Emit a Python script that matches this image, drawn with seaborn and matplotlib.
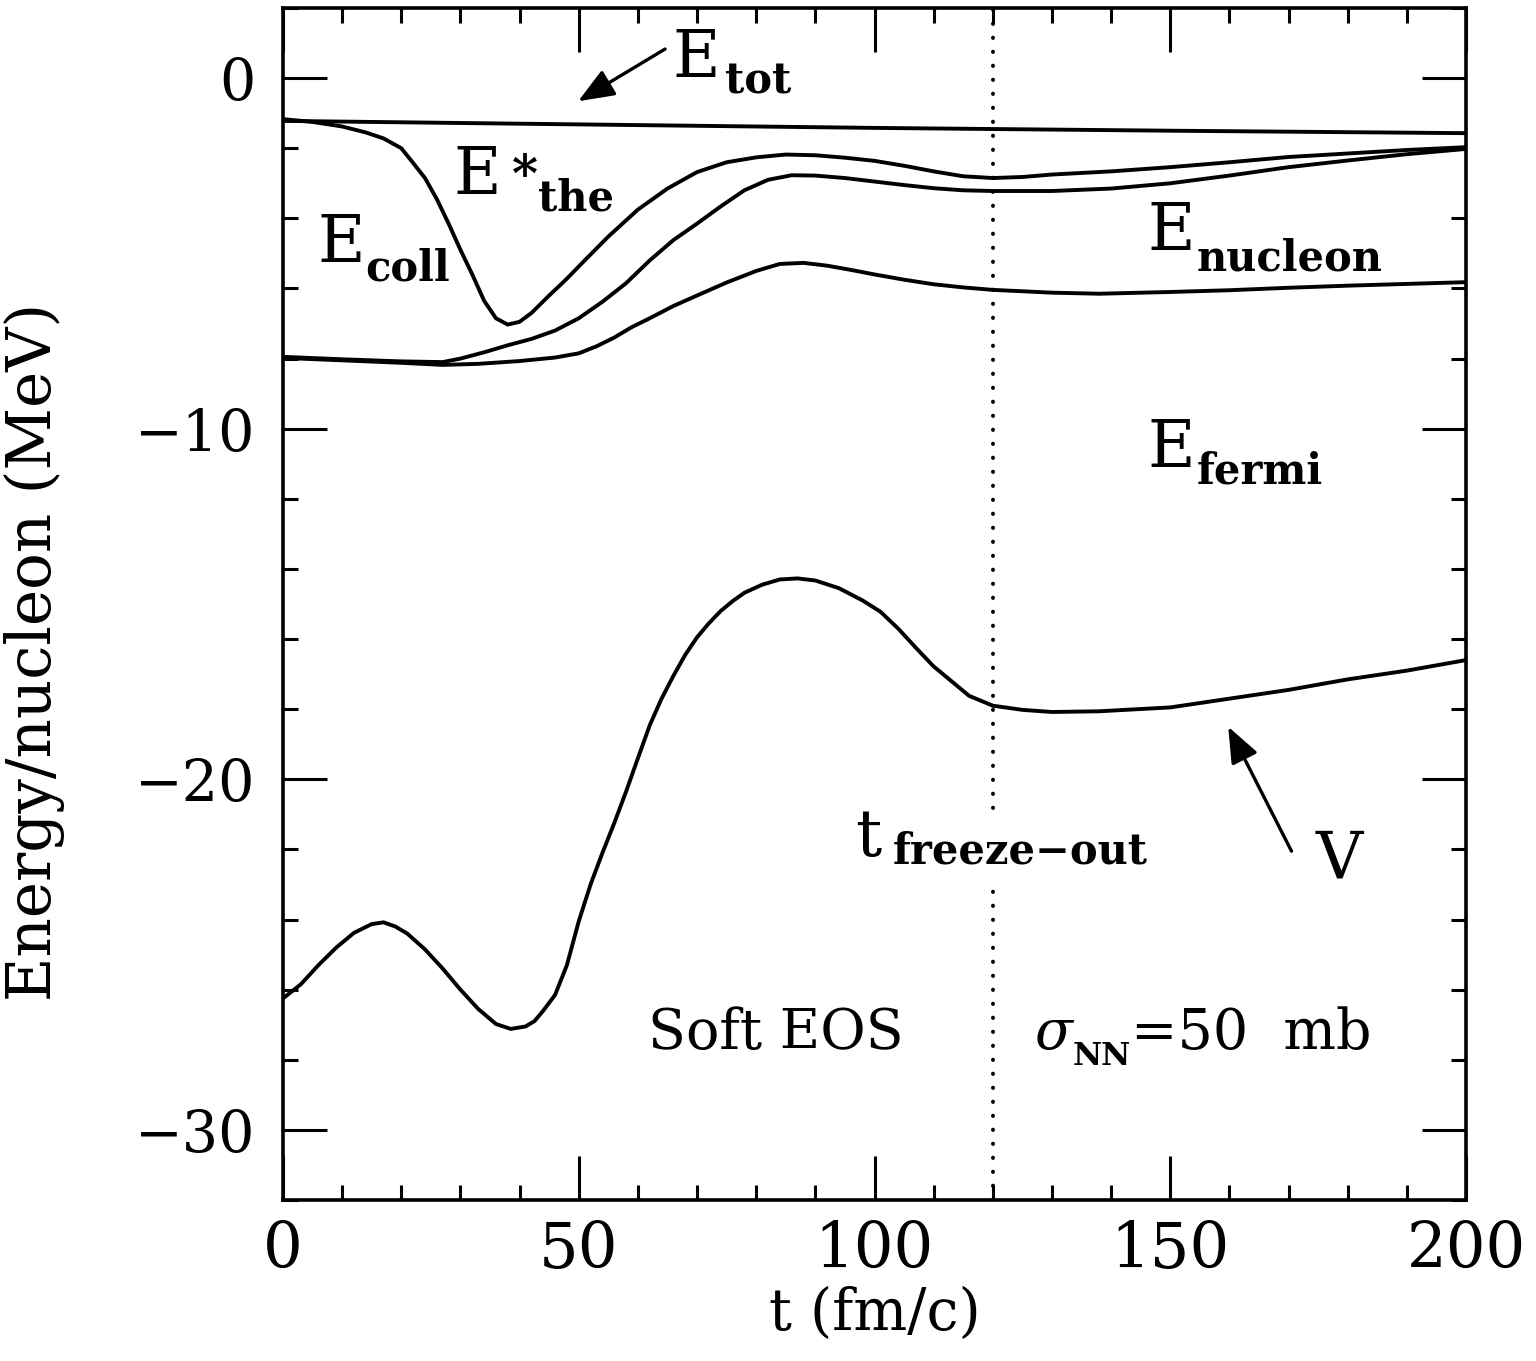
import numpy as np
import pandas as pd
import matplotlib
matplotlib.use('Agg')
import matplotlib.pyplot as plt
from matplotlib.ticker import MultipleLocator
import seaborn as sns

# values (t in fm/c, energies in MeV/nucleon)
t_tot = [0, 50, 100, 150, 200]
e_tot = [-1.22, -1.32, -1.42, -1.50, -1.57]

t_coll = [0, 5, 10, 14, 17, 20, 22, 24, 26, 28, 30, 32, 34, 36, 38, 40, 42, 45, 48, 51,
          55, 60, 65, 70, 75, 80, 85, 90, 95, 100, 105, 110, 115, 120, 125, 130, 140,
          150, 160, 170, 180, 190, 200]
e_coll = [-1.17, -1.25, -1.38, -1.55, -1.72, -2.0, -2.42, -2.85, -3.45, -4.15, -4.9, -5.6,
          -6.35, -6.85, -7.03, -6.95, -6.7, -6.2, -5.72, -5.2, -4.52, -3.75, -3.15, -2.68,
          -2.4, -2.26, -2.18, -2.2, -2.27, -2.36, -2.5, -2.66, -2.8, -2.85, -2.82, -2.75,
          -2.66, -2.54, -2.4, -2.25, -2.15, -2.05, -1.97]

t_the = [0, 10, 20, 27, 30, 34, 38, 42, 46, 50, 54, 58, 62, 66, 70, 74, 78, 82, 86, 90,
         95, 100, 105, 110, 115, 120, 130, 140, 150, 160, 170, 180, 190, 200]
e_the = [-7.95, -8.02, -8.08, -8.1, -8.0, -7.82, -7.62, -7.44, -7.2, -6.85, -6.38, -5.85,
         -5.2, -4.62, -4.15, -3.66, -3.2, -2.9, -2.77, -2.78, -2.85, -2.95, -3.05, -3.14,
         -3.2, -3.22, -3.22, -3.15, -3.0, -2.78, -2.54, -2.35, -2.17, -2.02]

t_nuc = [0, 10, 20, 27, 33, 40, 46, 50, 53, 56, 59, 62, 66, 70, 75, 80, 84, 88, 92, 96,
         100, 105, 110, 115, 120, 130, 138, 150, 160, 170, 180, 190, 200]
e_nuc = [-7.98, -8.05, -8.12, -8.18, -8.15, -8.07, -7.97, -7.85, -7.65, -7.4, -7.1, -6.85,
         -6.5, -6.2, -5.83, -5.5, -5.3, -5.27, -5.35, -5.47, -5.6, -5.75, -5.88, -5.97,
         -6.04, -6.12, -6.15, -6.1, -6.05, -5.98, -5.92, -5.87, -5.82]

t_v = [0, 3, 6, 9, 12, 15, 17, 19, 21, 24, 27, 30, 33, 36, 38.5, 41, 42.5, 44, 46, 48,
       50, 52, 54, 56, 58, 60, 62, 64, 66, 68, 70, 72, 74, 76, 78, 81, 84, 87, 90, 94,
       98, 101, 104, 107, 110, 113, 116, 120, 125, 130, 138, 150, 160, 170, 180, 190, 200]
e_v = [-26.25, -25.85, -25.3, -24.8, -24.38, -24.13, -24.08, -24.2, -24.4, -24.85, -25.4,
       -26.0, -26.55, -26.98, -27.12, -27.05, -26.9, -26.6, -26.15, -25.3, -24.05, -23.0,
       -22.1, -21.25, -20.35, -19.4, -18.46, -17.7, -17.05, -16.45, -15.95, -15.55, -15.2,
       -14.92, -14.68, -14.45, -14.3, -14.27, -14.33, -14.55, -14.9, -15.22, -15.7, -16.25,
       -16.78, -17.2, -17.62, -17.9, -18.02, -18.08, -18.06, -17.95, -17.7, -17.45, -17.15,
       -16.9, -16.6]

t_freeze = 120

curves = {'tot': (t_tot, e_tot), 'coll': (t_coll, e_coll), 'the': (t_the, e_the),
          'nucleon': (t_nuc, e_nuc), 'V': (t_v, e_v)}
df = pd.concat([pd.DataFrame({'curve': k, 't': v[0], 'E': v[1]}) for k, v in curves.items()],
               ignore_index=True)

sns.set_style('ticks')
plt.rcParams['font.family'] = 'DejaVu Serif'
plt.rcParams['text.color'] = 'black'
plt.rcParams['axes.labelcolor'] = 'black'
plt.rcParams['xtick.color'] = 'black'
plt.rcParams['ytick.color'] = 'black'

fig = plt.figure(figsize=(15.36, 13.61), dpi=100)
ax = fig.add_axes([283 / 1536, 1 - 1200 / 1361, (1466 - 283) / 1536, (1200 - 8) / 1361])

sns.lineplot(data=df, x='t', y='E', units='curve', estimator=None, color='black',
             lw=2.8, legend=False, ax=ax)

ax.axvline(t_freeze, color='black', lw=2.8, linestyle=(0, (0.1, 3.5)),
           dash_capstyle='round', zorder=1)

ax.set_xlim(0, 200)
ax.set_ylim(-32, 2)
ax.xaxis.set_major_locator(MultipleLocator(50))
ax.xaxis.set_minor_locator(MultipleLocator(10))
ax.yaxis.set_major_locator(MultipleLocator(10))
ax.yaxis.set_minor_locator(MultipleLocator(2))
ax.tick_params(which='both', direction='in', top=True, right=True, width=2.2, color='black')
ax.tick_params(which='major', length=32)
ax.tick_params(which='minor', length=11)
ax.tick_params(axis='x', labelsize=45, pad=14)
ax.tick_params(axis='y', labelsize=41, pad=20)
for s in ax.spines.values():
    s.set_linewidth(2.6)
    s.set_color('black')

ax.set_xlabel('t (fm/c)', fontsize=41, labelpad=4)
ax.set_ylabel('Energy/nucleon (MeV)', fontsize=44)
ax.yaxis.set_label_coords(-0.184, 0.46)

# arrows
arrow = dict(arrowstyle='-|>,head_length=0.55,head_width=0.22', lw=2.4, color='black',
             mutation_scale=40, shrinkA=0, shrinkB=0)
ax.annotate('', xy=(49.9, -0.66), xytext=(64.6, 0.83), arrowprops=arrow)
ax.annotate('', xy=(159.8, -18.5), xytext=(170.5, -22.05), arrowprops=arrow)


def label(x, y, main, sub, dx, dy, size=47, subsize=30, style='normal', **kw):
    ax.text(x, y, main, fontsize=size, va='baseline', style=style, zorder=5)
    ax.annotate(sub, xy=(x, y), xytext=(dx, dy), textcoords='offset points',
                fontsize=subsize, fontweight='bold', va='baseline', zorder=4, **kw)


label(65.8, 0.03, 'E', 'tot', 38, -12)
label(5.9, -5.24, 'E', 'coll', 34, -13.5)
label(28.8, -3.3, 'E', 'the', 61, -12)
ax.annotate('*', xy=(28.8, -3.3), xytext=(42, 2), textcoords='offset points',
            fontsize=36, fontweight='bold', va='baseline')
label(146.2, -4.9, 'E', 'nucleon', 35, -15)
label(146.2, -11.1, 'E', 'fermi', 35, -12)
label(96.7, -22.2, 't', 'freeze\u2212out', 27, -5,
      bbox=dict(facecolor='white', edgecolor='none', pad=9))
ax.text(174.5, -22.8, 'V', fontsize=47, va='baseline')
ax.text(61.7, -27.7, 'Soft EOS', fontsize=40, va='baseline')
label(127, -27.7, '\u03c3', 'NN', 28, -11.5, size=40, subsize=23, style='italic')
ax.annotate('=50  mb', xy=(127, -27.7), xytext=(70, 0), textcoords='offset points',
            fontsize=40, va='baseline')

fig.savefig('out.png', dpi=100, facecolor='white')
